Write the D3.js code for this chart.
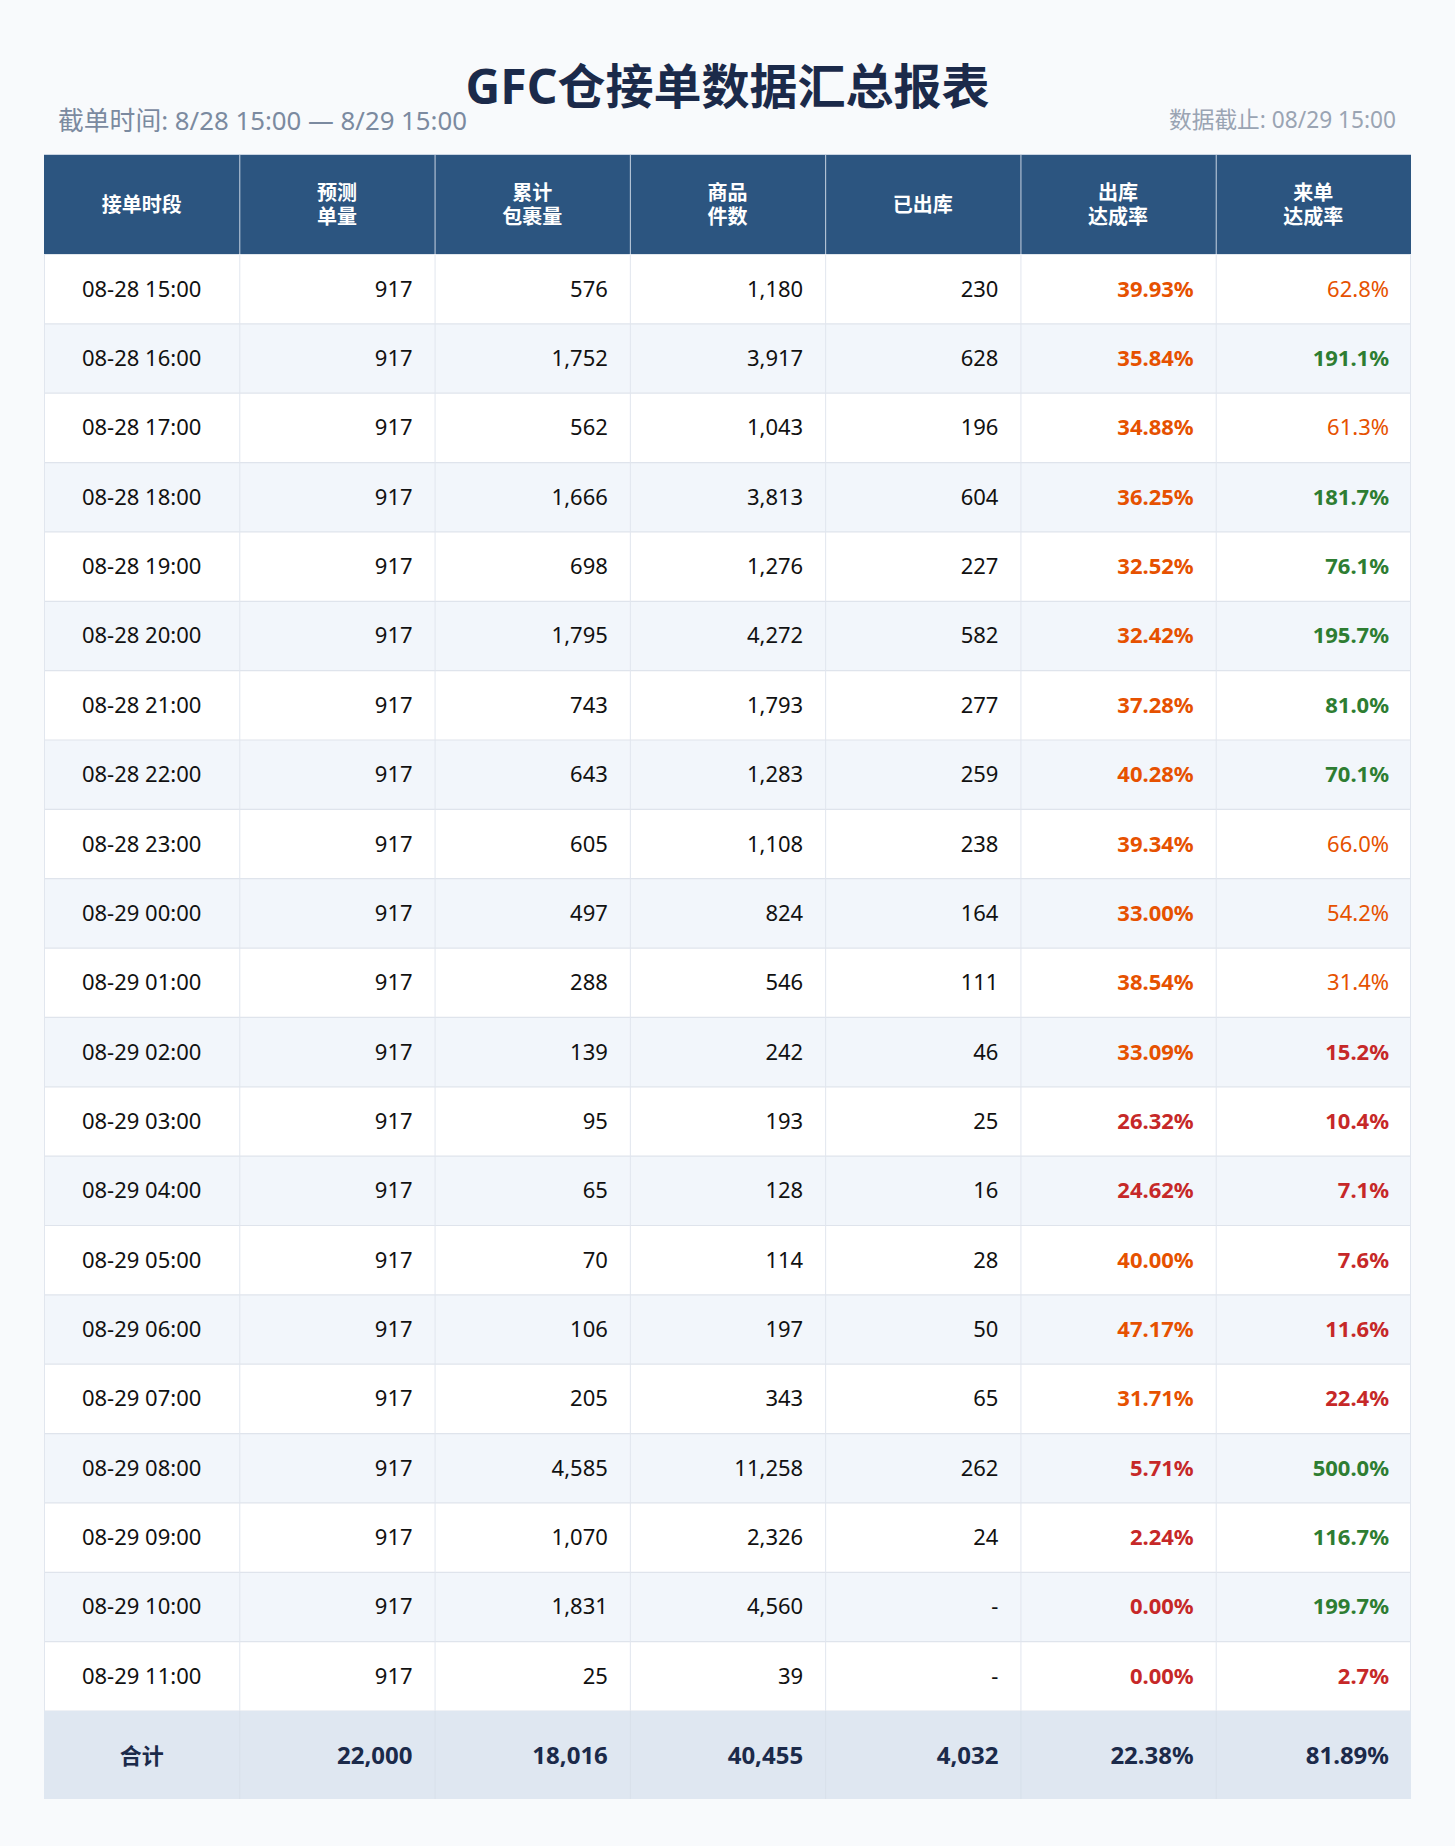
<!DOCTYPE html>
<html>
<head>
<meta charset="utf-8">
<script src="https://cdn.jsdelivr.net/npm/d3@7"></script>
<style>
  body { margin: 0; background: #f8fafc; }
  svg { display: block; font-family: "Noto Sans", "Noto Sans CJK SC", sans-serif; }
</style>
</head>
<body>
<svg id="chart"></svg>
<script>
var W = 1455, H = 1846;

// table data
var headers = [["接单时段"], ["预测", "单量"], ["累计", "包裹量"], ["商品", "件数"], ["已出库"], ["出库", "达成率"], ["来单", "达成率"]];
var slots = ["08-28 15:00", "08-28 16:00", "08-28 17:00", "08-28 18:00", "08-28 19:00", "08-28 20:00",
  "08-28 21:00", "08-28 22:00", "08-28 23:00", "08-29 00:00", "08-29 01:00", "08-29 02:00",
  "08-29 03:00", "08-29 04:00", "08-29 05:00", "08-29 06:00", "08-29 07:00", "08-29 08:00",
  "08-29 09:00", "08-29 10:00", "08-29 11:00"];
var forecast = [917, 917, 917, 917, 917, 917, 917, 917, 917, 917, 917, 917, 917, 917, 917, 917, 917, 917, 917, 917, 917];
var parcels = [576, 1752, 562, 1666, 698, 1795, 743, 643, 605, 497, 288, 139, 95, 65, 70, 106, 205, 4585, 1070, 1831, 25];
var items = [1180, 3917, 1043, 3813, 1276, 4272, 1793, 1283, 1108, 824, 546, 242, 193, 128, 114, 197, 343, 11258, 2326, 4560, 39];
var shipped = [230, 628, 196, 604, 227, 582, 277, 259, 238, 164, 111, 46, 25, 16, 28, 50, 65, 262, 24, null, null];
var shipRate = [39.93, 35.84, 34.88, 36.25, 32.52, 32.42, 37.28, 40.28, 39.34, 33.00, 38.54, 33.09,
  26.32, 24.62, 40.00, 47.17, 31.71, 5.71, 2.24, 0.00, 0.00];
var orderRate = [62.8, 191.1, 61.3, 181.7, 76.1, 195.7, 81.0, 70.1, 66.0, 54.2, 31.4, 15.2,
  10.4, 7.1, 7.6, 11.6, 22.4, 500.0, 116.7, 199.7, 2.7];
var totals = ["合计", "22,000", "18,016", "40,455", "4,032", "22.38%", "81.89%"];

var fmt = d3.format(",");

var svg = d3.select("#chart").attr("width", W).attr("height", H);
svg.append("rect").attr("width", W).attr("height", H).attr("fill", "#f8fafc");

var left = 44, right = 1411, headTop = 155, headBot = 254.5, bodyBot = 1711, totBot = 1799;
var pad = 22;

var x = d3.scaleBand().domain(d3.range(7)).range([left, right]);
var y = d3.scaleBand().domain(d3.range(slots.length)).range([headBot, bodyBot]);

// title
svg.append("text").attr("x", W / 2).attr("y", 104).attr("text-anchor", "middle")
  .attr("font-size", 48).attr("font-weight", 700).attr("fill", "#1b2a4a")
  .text("GFC仓接单数据汇总报表");
svg.append("text").attr("x", 58).attr("y", 130)
  .attr("font-size", 25.8).attr("fill", "#7b8aa0")
  .text("截单时间: 8/28 15:00 — 8/29 15:00");
svg.append("text").attr("x", 1396).attr("y", 128).attr("text-anchor", "end")
  .attr("font-size", 22.7).attr("fill", "#9aa4b3")
  .text("数据截止: 08/29 15:00");

// header
svg.append("rect").attr("x", left).attr("y", headTop - 1).attr("width", right - left).attr("height", headBot - headTop + 1)
  .attr("fill", "#c9d4e2");
var head = svg.append("g");
head.selectAll("rect").data(headers).join("rect")
  .attr("x", function(d, i) { return x(i) + (i ? 1 : 0); })
  .attr("y", headTop)
  .attr("width", function(d, i) { return x.bandwidth() - (i ? 1 : 0); })
  .attr("height", headBot - headTop)
  .attr("fill", "#2c5580");
var hc = (headTop + headBot) / 2;
head.selectAll("text").data(headers).join("text")
  .attr("text-anchor", "middle").attr("font-size", 20).attr("font-weight", 700).attr("fill", "#fff")
  .each(function(d, i) {
    var t = d3.select(this);
    var cx = x(i) + x.bandwidth() / 2;
    d.forEach(function(line, j) {
      var off = d.length === 1 ? 0 : (j === 0 ? -12 : 12);
      t.append("tspan").attr("x", cx).attr("y", hc + off + 7).text(line);
    });
  });

// body rows
function rateStyle(v, kind) {
  if (kind === "ship") {
    return { fill: v >= 30 ? "#e65100" : "#c62828", weight: 700 };
  }
  if (v >= 70) return { fill: "#2e7d32", weight: 700 };
  if (v >= 30) return { fill: "#e65100", weight: 400 };
  return { fill: "#c62828", weight: 700 };
}

var rows = slots.map(function(s, i) {
  var sr = rateStyle(shipRate[i], "ship"), or = rateStyle(orderRate[i], "order");
  return [
    { t: s, fill: "#111", weight: 400 },
    { t: fmt(forecast[i]), fill: "#111", weight: 400 },
    { t: fmt(parcels[i]), fill: "#111", weight: 400 },
    { t: fmt(items[i]), fill: "#111", weight: 400 },
    { t: shipped[i] == null ? "-" : fmt(shipped[i]), fill: "#111", weight: 400 },
    { t: shipRate[i].toFixed(2) + "%", fill: sr.fill, weight: sr.weight },
    { t: orderRate[i].toFixed(1) + "%", fill: or.fill, weight: or.weight }
  ];
});

var body = svg.append("g");
body.append("rect").attr("x", left).attr("y", headBot).attr("width", right - left).attr("height", bodyBot - headBot)
  .attr("fill", "#fff");
body.selectAll("rect.band").data(slots).join("rect").attr("class", "band")
  .attr("x", left).attr("y", function(d, i) { return y(i); })
  .attr("width", right - left).attr("height", y.bandwidth())
  .attr("fill", function(d, i) { return i % 2 ? "#f2f6fb" : "#fff"; });

// grid lines
body.selectAll("line.h").data(d3.range(1, slots.length + 1)).join("line").attr("class", "h")
  .attr("x1", left).attr("x2", right)
  .attr("y1", function(i) { return i === slots.length ? bodyBot : y(i); })
  .attr("y2", function(i) { return i === slots.length ? bodyBot : y(i); })
  .attr("stroke", "#dfe4ec").attr("stroke-width", 1.2);
body.selectAll("line.v").data(d3.range(0, 8)).join("line").attr("class", "v")
  .attr("x1", function(i) { return i === 7 ? right - 0.5 : x(i) + 0.5; })
  .attr("x2", function(i) { return i === 7 ? right - 0.5 : x(i) + 0.5; })
  .attr("y1", headBot).attr("y2", bodyBot)
  .attr("stroke", "#e1e6ee").attr("stroke-width", 1);

var rowG = body.selectAll("g.row").data(rows).join("g").attr("class", "row")
  .attr("transform", function(d, i) { return "translate(0," + (y(i) + y.bandwidth() / 2) + ")"; });
rowG.selectAll("text").data(function(d) { return d; }).join("text")
  .attr("x", function(d, j) { return j === 0 ? x(j) + x.bandwidth() / 2 : x(j) + x.bandwidth() - pad; })
  .attr("y", 7.5)
  .attr("text-anchor", function(d, j) { return j === 0 ? "middle" : "end"; })
  .attr("font-size", 22)
  .attr("font-weight", function(d) { return d.weight; })
  .attr("fill", function(d) { return d.fill; })
  .text(function(d) { return d.t; });

// totals row
var tot = svg.append("g");
tot.append("rect").attr("x", left).attr("y", bodyBot).attr("width", right - left).attr("height", totBot - bodyBot)
  .attr("fill", "#dfe7f1");
tot.selectAll("line").data(d3.range(1, 7)).join("line")
  .attr("x1", function(i) { return x(i) + 0.5; }).attr("x2", function(i) { return x(i) + 0.5; })
  .attr("y1", bodyBot).attr("y2", totBot)
  .attr("stroke", "#d8e0ea").attr("stroke-width", 1);
var tc = (bodyBot + totBot) / 2;
tot.selectAll("text").data(totals).join("text")
  .attr("x", function(d, j) { return j === 0 ? x(j) + x.bandwidth() / 2 : x(j) + x.bandwidth() - pad; })
  .attr("y", tc + 8.5)
  .attr("text-anchor", function(d, j) { return j === 0 ? "middle" : "end"; })
  .attr("font-size", function(d, j) { return j === 0 ? 22 : 24; })
  .attr("font-weight", 700)
  .attr("fill", "#1b2a4a")
  .text(function(d) { return d; });
</script>
</body>
</html>
